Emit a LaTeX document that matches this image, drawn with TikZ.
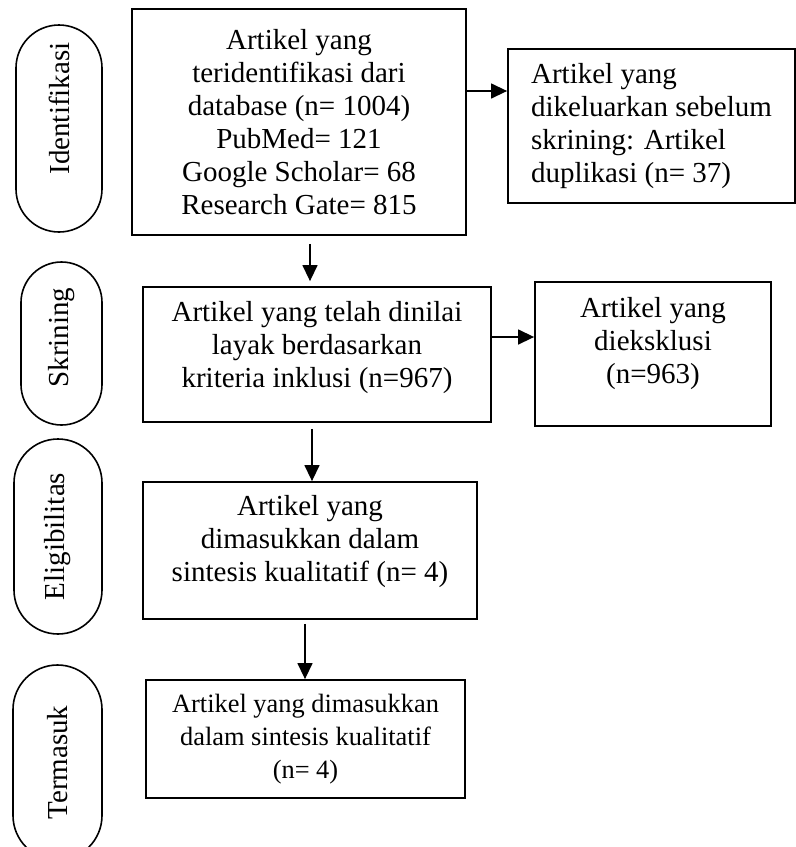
\documentclass[tikz,border=0pt]{standalone}
\usepackage{fontspec}
\setmainfont{Liberation Serif}
\usetikzlibrary{shapes.misc,arrows.meta}

\tikzset{
  stage/.style={draw,line width=0.8pt,rounded rectangle,rotate=90,inner sep=0pt,
    font=\fontsize{14.5}{16.5}\selectfont},
  block/.style={draw,line width=0.9pt,inner sep=0pt,align=center,
    font=\fontsize{14.5}{16.5}\selectfont},
  arr/.style={-{Triangle[length=8pt,width=7.5pt]},line width=0.7pt},
}

\begin{document}
\begin{tikzpicture}[x=0.5pt,y=-0.5pt]
  \clip (0,0) rectangle (796,847);
  % stages
  \node[stage,minimum width=103.5pt,minimum height=43pt] (S1) at (59,128.5) {\hspace*{20pt}Identifikasi};
  \node[stage,minimum width=81.5pt,minimum height=40.5pt] (S2) at (61.5,343.5) {\hspace*{6pt}Skrining};
  \node[stage,minimum width=97.5pt,minimum height=44pt] (S3) at (58,536.5) {Eligibilitas};
  \node[stage,minimum width=97.5pt,minimum height=44.5pt] (S4) at (57.5,762.5) {Termasuk};
  % boxes
  \node[block,minimum width=167pt,minimum height=113pt] (B1) at (299,122) {
    Artikel yang\\
    teridentifikasi dari\\
    database (n= 1004)\\
    PubMed= 121\\
    Google Scholar= 68\\
    Research Gate= 815};
  \node[block,align=left,minimum width=143.5pt,minimum height=77pt] (B2) at (651.5,126) {
    Artikel yang\\
    dikeluarkan sebelum\\
    skrining: Artikel\\
    duplikasi (n= 37)};
  \node[block,text depth=10pt,minimum width=174pt,minimum height=67.5pt] (B3) at (317,354.5) {
    Artikel yang telah dinilai\\
    layak berdasarkan\\
    kriteria inklusi (n=967)};
  \node[block,text depth=14pt,minimum width=118pt,minimum height=72pt] (B4) at (653,354) {
    Artikel yang\\
    dieksklusi\\
    (n=963)};
  \node[block,text depth=12pt,minimum width=167pt,minimum height=68.5pt] (B5) at (310,550.5) {
    Artikel yang\\
    dimasukkan dalam\\
    sintesis kualitatif (n= 4)};
  \node[block,font=\fontsize{13.2}{16.5}\selectfont,minimum width=159.5pt,minimum height=59pt] (B6) at (305.5,739) {
    Artikel yang dimasukkan\\
    dalam sintesis kualitatif\\
    (n= 4)};
  % arrows
  \path[arr] ([xshift=5.5pt]B1.south) edge[shorten <=4pt,shorten >=2.5pt] ([xshift=-3.5pt]B3.north);
  \path[arr] ([yshift=15.5pt]B1.east) edge ([yshift=15.5pt]B1.east -| B2.west);
  \path[arr] ([yshift=8.75pt]B3.east) edge ([yshift=8.75pt]B3.east -| B4.west);
  \path[arr] ([xshift=-2.5pt]B3.south) edge[shorten <=3pt] ([xshift=1pt]B5.north);
  \path[arr] ([xshift=-2.5pt]B5.south) edge[shorten <=2pt] ([xshift=-0.25pt]B6.north);
\end{tikzpicture}
\end{document}
